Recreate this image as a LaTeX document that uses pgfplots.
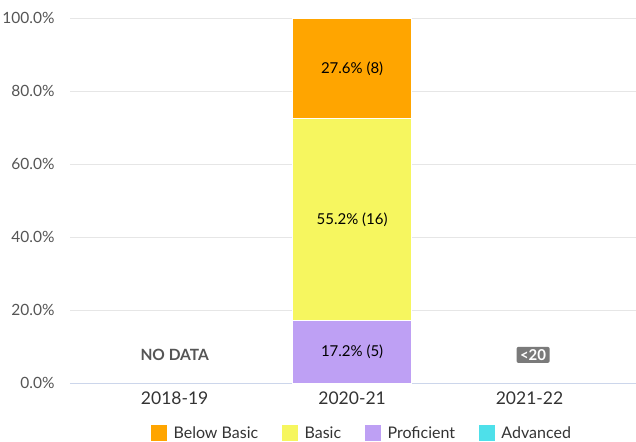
\documentclass[border=0pt]{standalone}
\usepackage{pgfplots}
\pgfplotsset{compat=1.18}
\usepackage{fontspec}
\setmainfont{Lato}
\definecolor{cBB}{HTML}{FFA500}
\definecolor{cB}{HTML}{F6F65F}
\definecolor{cP}{HTML}{BEA0F4}
\definecolor{cA}{HTML}{4EE0EA}
\definecolor{gridc}{HTML}{E6E6E6}
\definecolor{axc}{HTML}{CCD6EB}
\definecolor{txt}{HTML}{333333}
\definecolor{ytxt}{HTML}{555555}
\begin{document}
\begin{tikzpicture}
\useasboundingbox (-70pt,-58pt) rectangle (566pt,383pt);
\begin{axis}[
  at={(0pt,0pt)}, anchor=south west,
  scale only axis, width=566pt, height=365pt,
  ybar stacked, bar width=0.67,
  xmin=-0.59, xmax=2.6, ymin=0, ymax=100,
  ytick={0,20,...,100}, xtick={0,1,2},
  xticklabels={2018-19,2020-21,2021-22},
  /pgf/number format/assume math mode=true,
  yticklabel={\pgfmathprintnumber[fixed,fixed zerofill,precision=1]{\tick}\%},
  yticklabel style={font=\fontsize{15.5}{17}\selectfont, text=ytxt, anchor=east, xshift=-12pt},
  xticklabel style={font=\fontsize{17.5}{19}\selectfont, text=txt, yshift=-5pt},
  major tick length=0pt,
  ymajorgrids, grid style={gridc, line width=0.8pt},
  axis x line*=bottom, axis y line*=left,
  x axis line style={axc, line width=1pt, -},
  y axis line style={draw=none},
  legend style={at={(0.516,0)}, anchor=center, yshift=-50pt, draw=none, fill=none,
    legend columns=4, font=\fontsize{16}{18}\selectfont, text=txt,
    /tikz/every odd column/.append style={column sep=5pt},
    /tikz/every even column/.append style={column sep=22pt}},
  clip=false,
]
\addlegendimage{legend image code/.code={\fill[cBB] (0pt,-7pt) rectangle (15pt,8pt);}}
\addlegendentry{Below Basic}
\addlegendimage{legend image code/.code={\fill[cB] (0pt,-7pt) rectangle (15pt,8pt);}}
\addlegendentry{Basic}
\addlegendimage{legend image code/.code={\fill[cP] (0pt,-7pt) rectangle (15pt,8pt);}}
\addlegendentry{Proficient}
\addlegendimage{legend image code/.code={\fill[cA] (0pt,-7pt) rectangle (15pt,8pt);}}
\addlegendentry{Advanced}
\addplot[fill=cP, draw=white, line width=0.8pt, forget plot] coordinates {(1,17.2)};
\addplot[fill=cB, draw=white, line width=0.8pt, forget plot] coordinates {(1,55.2)};
\addplot[fill=cBB, draw=white, line width=0.8pt, forget plot] coordinates {(1,27.6)};
\coordinate (l1) at (axis cs:1,8.6);
\coordinate (l2) at (axis cs:1,44.8);
\coordinate (l3) at (axis cs:1,86.2);
\coordinate (nd) at (axis cs:0,7.7);
\coordinate (lt) at (axis cs:2.02,7.7);
\end{axis}
\node[font=\fontsize{15}{17}\selectfont] at (l1) {17.2\% (5)};
\node[font=\fontsize{15}{17}\selectfont] at (l2) {55.2\% (16)};
\node[font=\fontsize{15}{17}\selectfont] at (l3) {27.6\% (8)};
\node[font=\bfseries\fontsize{15.5}{17}\selectfont, text=ytxt] at (nd) {NO DATA};
\node[font=\bfseries\fontsize{15}{16}\selectfont, text=white, fill=black!52, rounded corners=2pt, inner xsep=3.5pt, inner ysep=2.5pt] at (lt) {<20};
\end{tikzpicture}
\end{document}
